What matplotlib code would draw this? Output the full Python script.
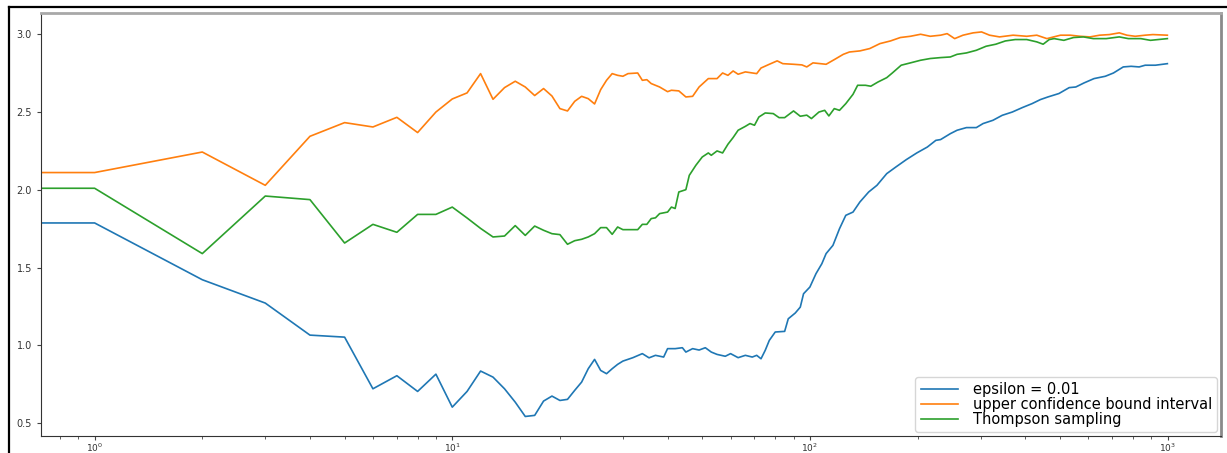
import numpy as np
import matplotlib as mpl
import matplotlib.pyplot as plt
from matplotlib.lines import Line2D

# average reward per step, three bandit strategies (x = step number)
eps_x = [0, 1, 2, 3, 4, 5, 6, 7, 8, 9, 10, 11, 12, 13, 14, 15, 16, 17, 18, 19,
         20, 21, 22, 23, 24, 25, 26, 27, 28, 29, 30, 32, 34, 35.5, 37, 39, 40,
         42, 44, 45, 47, 49, 51, 53, 55, 58, 60, 63, 66, 69, 71, 73, 75, 77,
         80, 85, 87, 91, 94, 96, 100, 104, 108, 111, 116, 121, 126, 132, 138,
         146, 154, 164, 174, 186, 199, 213, 225, 232, 247, 258, 274, 292, 305,
         325, 345, 368, 393, 418, 441, 463, 497, 531, 554, 584, 623, 670, 706,
         752, 791, 833, 866, 925, 999]
eps_y = [1.787, 1.787, 1.422, 1.272, 1.066, 1.053, 0.721, 0.805, 0.704, 0.815,
         0.603, 0.704, 0.835, 0.796, 0.721, 0.635, 0.543, 0.550, 0.642, 0.674,
         0.646, 0.653, 0.711, 0.764, 0.850, 0.910, 0.839, 0.818, 0.850, 0.878,
         0.899, 0.921, 0.947, 0.920, 0.936, 0.925, 0.979, 0.979, 0.985, 0.957,
         0.979, 0.970, 0.985, 0.957, 0.942, 0.930, 0.947, 0.921, 0.936, 0.925,
         0.936, 0.914, 0.968, 1.032, 1.086, 1.090, 1.171, 1.208, 1.246, 1.332,
         1.375, 1.461, 1.525, 1.590, 1.643, 1.750, 1.836, 1.857, 1.922, 1.986,
         2.029, 2.104, 2.147, 2.194, 2.237, 2.275, 2.318, 2.323, 2.361, 2.383,
         2.400, 2.400, 2.426, 2.447, 2.479, 2.500, 2.529, 2.554, 2.580, 2.597,
         2.619, 2.657, 2.661, 2.687, 2.715, 2.730, 2.751, 2.790, 2.794, 2.790,
         2.801, 2.801, 2.811]

ucb_x = [0, 1, 2, 3, 4, 5, 6, 7, 8, 9, 10, 11, 12, 13, 14, 15, 16, 17, 18, 19,
         20, 21, 22, 23, 24, 25, 26, 27, 28, 29, 30, 31, 33, 34, 35, 36, 38, 40,
         41, 43, 45, 47, 49, 52, 55, 57, 59, 61, 63, 66, 71, 73, 77, 81, 84,
         90, 95, 98, 102, 107, 111, 117, 124, 129, 138, 147, 157, 168, 179,
         191, 204, 217, 232, 242, 254, 268, 286, 302, 318, 339, 370, 404, 431,
         460, 502, 535, 570, 607, 646, 688, 733, 770, 812, 866, 910, 999]
ucb_y = [2.111, 2.111, 2.243, 2.029, 2.344, 2.432, 2.404, 2.466, 2.368, 2.500,
         2.584, 2.623, 2.747, 2.582, 2.657, 2.698, 2.661, 2.606, 2.651, 2.603,
         2.522, 2.507, 2.569, 2.601, 2.586, 2.552, 2.644, 2.704, 2.747, 2.736,
         2.730, 2.747, 2.751, 2.704, 2.708, 2.683, 2.661, 2.631, 2.640, 2.636,
         2.597, 2.601, 2.661, 2.715, 2.715, 2.751, 2.736, 2.764, 2.743, 2.758,
         2.747, 2.783, 2.807, 2.829, 2.811, 2.807, 2.803, 2.790, 2.816, 2.811,
         2.807, 2.837, 2.871, 2.886, 2.893, 2.908, 2.940, 2.957, 2.979, 2.987,
         3.000, 2.987, 2.994, 3.004, 2.972, 2.994, 3.009, 3.015, 2.994, 2.983,
         2.994, 2.987, 2.994, 2.972, 2.994, 2.994, 2.987, 2.983, 2.994, 2.998,
         3.009, 2.994, 2.987, 2.994, 2.998, 2.994]

ts_x = [0, 1, 2, 3, 4, 5, 6, 7, 8, 9, 10, 11, 12, 13, 14, 15, 16, 17, 18, 19,
        20, 21, 22, 23, 24, 25, 26, 27, 28, 29, 30, 33, 34, 35, 36, 37, 38, 40,
        41, 42, 43, 45, 46, 48, 50, 52, 53, 55, 57, 59, 61, 63, 66, 68, 70,
        72, 75, 79, 82, 85, 90, 94, 98, 101, 106, 110, 113, 117, 121, 126,
        132, 136, 143, 148, 155, 164, 170, 180, 191, 204, 217, 232, 247, 258,
        274, 292, 311, 331, 352, 375, 404, 431, 449, 467, 482, 513, 546, 582,
        620, 674, 733, 777, 842, 896, 999]
ts_y = [2.010, 2.010, 1.590, 1.960, 1.937, 1.658, 1.778, 1.727, 1.842, 1.842,
        1.889, 1.819, 1.752, 1.697, 1.703, 1.770, 1.707, 1.767, 1.740, 1.718,
        1.712, 1.650, 1.673, 1.682, 1.697, 1.718, 1.757, 1.757, 1.714, 1.761,
        1.744, 1.744, 1.778, 1.778, 1.815, 1.820, 1.847, 1.857, 1.889, 1.880,
        1.986, 2.001, 2.093, 2.158, 2.211, 2.237, 2.222, 2.250, 2.237, 2.293,
        2.336, 2.383, 2.408, 2.426, 2.415, 2.468, 2.494, 2.490, 2.464, 2.464,
        2.507, 2.473, 2.480, 2.458, 2.500, 2.511, 2.475, 2.522, 2.511, 2.554,
        2.614, 2.672, 2.672, 2.666, 2.693, 2.721, 2.751, 2.801, 2.816, 2.833,
        2.844, 2.850, 2.854, 2.871, 2.880, 2.897, 2.923, 2.936, 2.957, 2.966,
        2.966, 2.951, 2.936, 2.966, 2.972, 2.961, 2.979, 2.983, 2.972, 2.972,
        2.983, 2.972, 2.972, 2.961, 2.972]

labels = ["epsilon = 0.01", "upper confidence bound interval", "Thompson sampling"]

W, H = 1227, 453
fig = plt.figure(figsize=(W / 100, H / 100), dpi=100)
ax = fig.add_axes([41 / W, 1 - 435.7 / H, (1221 - 41) / W, (435.7 - 12.7) / H])

ax.plot(eps_x, eps_y, color="tab:blue", lw=1.2, label=labels[0])
ax.plot(ucb_x, ucb_y, color="tab:orange", lw=1.2, label=labels[1])
ax.plot(ts_x, ts_y, color="tab:green", lw=1.2, label=labels[2])
ax.set_xscale("log")

ax.tick_params(axis="y", labelsize=7, length=3, color="#444444", labelcolor="#333333")
ax.tick_params(axis="x", labelsize=6.5, length=3, pad=1.5, color="#444444",
               labelcolor="#333333")
ax.tick_params(which="minor", length=2, color="#444444")
ax.set_yticks([0.5, 1.0, 1.5, 2.0, 2.5, 3.0])

ax.spines["left"].set_color("#333333")
ax.spines["bottom"].set_color("#333333")
ax.spines["top"].set_color("#a8a8a8")
ax.spines["top"].set_linewidth(2)
ax.spines["right"].set_color("#8a8a8a")
ax.spines["right"].set_linewidth(2)

leg = ax.legend(loc="lower right", fontsize=10.5, handlelength=2.6,
                handletextpad=1.0, labelspacing=0.0, borderpad=0.35,
                fancybox=True, borderaxespad=0.25)

# dark frame around the figure (left and top edges)
fig.add_artist(Line2D([8.5 / W, 8.5 / W], [0, 1 - 7 / H], color="black",
                      lw=1.6, transform=fig.transFigure))
fig.add_artist(Line2D([8.5 / W, 1], [1 - 7 / H, 1 - 7 / H], color="black",
                      lw=1.6, transform=fig.transFigure))

fig.savefig("out.png", dpi=100)
